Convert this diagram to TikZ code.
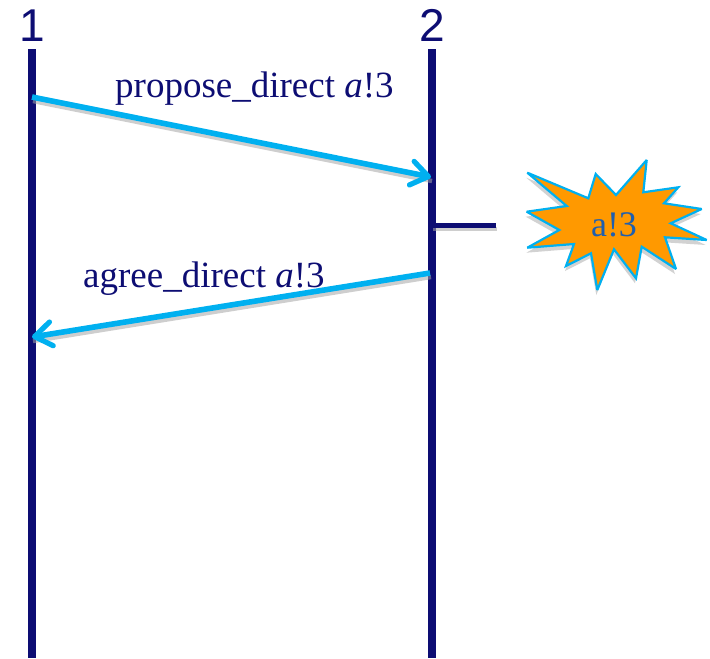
\documentclass[tikz,border=0pt]{standalone}
\usepackage{fontspec}
\setmainfont{Liberation Serif}
\newfontfamily\headfont{Liberation Sans}
\usetikzlibrary{arrows.meta}
\definecolor{navyline}{RGB}{13,13,115}
\definecolor{skyline}{RGB}{0,176,240}
\definecolor{starfill}{RGB}{255,153,0}
\definecolor{startext}{RGB}{31,95,175}
\tikzset{
  lifeline/.style={draw=navyline,line width=7.5pt},
  msg/.style={draw=skyline,line width=5.6pt,-{Straight Barb[length=17pt,width=24pt,line width=5.2pt,round]}},
  msgshadow/.style={draw=black!35,line width=4.5pt,opacity=.55,transform canvas={xshift=1pt,yshift=-4pt}},
  head/.style={font=\headfont\fontsize{46}{46}\selectfont,text=navyline,anchor=base,inner sep=0pt},
  msglabel/.style={font=\fontsize{37}{37}\selectfont,text=navyline,anchor=base west,inner sep=0pt}
}
\begin{document}
\begin{tikzpicture}[x=1pt,y=-1pt]
\useasboundingbox (0,0) rectangle (710,659);
\node[head] (h1) at (32,41) {1};
\node[head] (h2) at (432,41) {2};
\coordinate (t1) at (32,49);
\coordinate (b1) at (32,658);
\coordinate (t2) at (432,49);
\coordinate (b2) at (432,658);
\coordinate (p1s) at (32,97);
\coordinate (p1e) at (431,177);
\coordinate (p2s) at (430,273);
\coordinate (p2e) at (32,337);
\coordinate (tickA) at (432,225);
\coordinate (tickB) at (496,225);
\draw[lifeline] (t1) -- (b1);
\draw[lifeline] (t2) -- (b2);
\draw[msgshadow] (p1s) -- (p1e);
\draw[msgshadow] (p2s) -- (p2e);
\draw[msgshadow] (tickA) -- (tickB);
\draw[draw=navyline,line width=5pt] (tickA) -- (tickB);
\draw[msg] (p1s) -- (p1e);
\draw[msg] (p2s) -- (p2e);
\node[msglabel] (lab1) at (115,97) {propose\_direct \textit{a}!3};
\node[msglabel] (lab2) at (83,287) {agree\_direct \textit{a}!3};
\def\starpath{(527.3,172.7) -- (588.3,198.3) -- (595.7,174) -- (616,195) -- (646.7,160) -- (643.3,192.3) -- (678.3,187.3) -- (664,203.3) -- (701.7,209) -- (670.7,223.3) -- (706.7,240) -- (665,237.3) -- (676,269) -- (641.7,246.7) -- (636,278.3) -- (614,249.3) -- (597.3,290) -- (591,253.3) -- (566,266) -- (574,244) -- (527.3,247.7) -- (559.3,230) -- (526.7,211.7) -- (566.7,206) -- cycle}
\fill[black!35,opacity=.5,shift={(-1,5)}] \starpath;
\draw[draw=skyline,fill=starfill,line width=2.2pt,line join=miter,miter limit=3] \starpath;
\node[font=\fontsize{36}{36}\selectfont,text=startext,anchor=base,inner sep=0pt] (burst) at (614,236) {a!3};
\end{tikzpicture}
\end{document}
